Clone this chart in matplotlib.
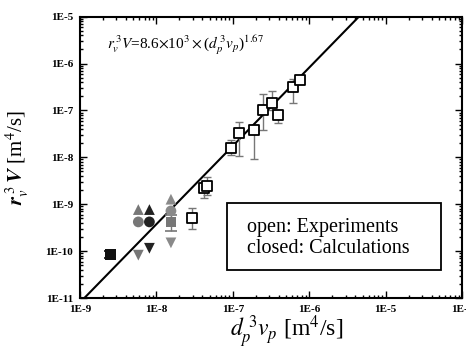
import matplotlib
matplotlib.use("Agg")
import matplotlib.pyplot as plt
import numpy as np
from matplotlib.ticker import LogLocator, FixedLocator, NullFormatter
from matplotlib.patches import Rectangle

plt.rcParams['font.family'] = ['Liberation Serif', 'DejaVu Serif']
plt.rcParams['mathtext.fontset'] = 'stix'

# Experiments (open squares)
exp_x = [2.95e-8, 4.2e-8, 4.6e-8, 9.4e-8, 1.2e-7, 1.9e-7, 2.5e-7, 3.3e-7, 3.9e-7, 6.1e-7, 7.6e-7]
exp_y = [5.0e-10, 2.2e-9, 2.5e-9, 1.58e-8, 3.3e-8, 3.75e-8, 1.03e-7, 1.46e-7, 8.2e-8, 3.2e-7, 4.5e-7]
exp_lo = [2.9e-10, 1.37e-9, 1.6e-9, 1.1e-8, 1.07e-8, 9.2e-9, 3.9e-8, 1.0e-7, 5.5e-8, 1.46e-7, 3.6e-7]
exp_hi = [8.3e-10, 3.0e-9, 3.8e-9, 2.3e-8, 5.6e-8, 4.5e-8, 2.3e-7, 2.6e-7, 1.0e-7, 4.7e-7, 5.3e-7]

# Calculations (closed markers)
calc_x = [2.5e-9, 5.8e-9, 8.1e-9, 5.8e-9, 8.1e-9, 5.8e-9, 8.1e-9, 1.55e-8, 1.55e-8, 1.55e-8, 1.55e-8]
calc_y = [8.5e-11, 7.7e-10, 7.7e-10, 4.2e-10, 4.2e-10, 8.2e-11, 1.15e-10, 1.28e-9, 7.2e-10, 4.2e-10, 1.5e-10]
calc_marker = ['s', '^', '^', 'o', 'o', 'v', 'v', '^', 'o', 's', 'v']
calc_color = ['#111111', '#777777', '#222222', '#777777', '#222222', '#777777', '#222222',
              '#8a8a8a', '#8a8a8a', '#777777', '#8a8a8a']
calc_err_idx = [0, 9]
calc_lo = [7.2e-11, 2.7e-10]
calc_hi = [1.0e-10, 6.0e-10]

fit_coef = 8.6e3
fit_exp = 1.67

fig = plt.figure(figsize=(4.66, 3.52), dpi=100)
ax = fig.add_axes([80/466, 1-298/352, (462-80)/466, (298-16.7)/352])
ax.set_xscale('log')
ax.set_yscale('log')
ax.set_xlim(1e-9, 1e-4)
ax.set_ylim(1e-11, 1e-5)

xf = np.logspace(-9, -4, 200)
ax.plot(xf, fit_coef * xf**fit_exp, color='black', lw=1.5, zorder=2)

# experiment error bars
for x, y, lo, hi in zip(exp_x, exp_y, exp_lo, exp_hi):
    ax.errorbar([x], [y], yerr=[[y - lo], [hi - y]], fmt='none', ecolor='#777777',
                elinewidth=1.0, capsize=3, capthick=1.0, zorder=3)
ax.scatter(exp_x, exp_y, marker='s', s=55, facecolors='white', edgecolors='black',
           linewidths=1.3, zorder=4)

for i, lo, hi in zip(calc_err_idx, calc_lo, calc_hi):
    y = calc_y[i]
    ax.errorbar([calc_x[i]], [y], yerr=[[y - lo], [hi - y]], fmt='none', ecolor=calc_color[i],
                elinewidth=1.0, capsize=4, capthick=1.2, zorder=3)
for x, y, m, c in zip(calc_x, calc_y, calc_marker, calc_color):
    ax.scatter([x], [y], marker=m, s=60, color=c, edgecolors='none', zorder=4)

ax.xaxis.set_major_locator(FixedLocator([1e-9, 1e-8, 1e-7, 1e-6, 1e-5, 1e-4]))
ax.yaxis.set_major_locator(FixedLocator([1e-11, 1e-10, 1e-9, 1e-8, 1e-7, 1e-6, 1e-5]))
ax.xaxis.set_minor_locator(LogLocator(base=10, subs=np.arange(2, 10), numticks=20))
ax.yaxis.set_minor_locator(LogLocator(base=10, subs=np.arange(2, 10), numticks=20))
ax.xaxis.set_minor_formatter(NullFormatter())
ax.yaxis.set_minor_formatter(NullFormatter())
ax.set_xticklabels(['1E-9', '1E-8', '1E-7', '1E-6', '1E-5', '1E-4'])
ax.set_yticklabels(['1E-11', '1E-10', '1E-9', '1E-8', '1E-7', '1E-6', '1E-5'])
ax.tick_params(which='both', direction='in', top=True, right=True, labelsize=8, width=1.0)
ax.tick_params(which='major', length=5, pad=5)
ax.tick_params(which='minor', length=2.5)
for lab in ax.get_xticklabels() + ax.get_yticklabels():
    lab.set_fontweight('bold')
for s in ax.spines.values():
    s.set_linewidth(1.5)

ax.set_ylabel(r'$\mathbfit{r}_{v}^{\;3}\,\mathbfit{V}$ [m$^{4}$/s]', fontsize=15)
ax.yaxis.set_label_coords(-0.128, 0.5)
ax.set_xlabel(r'$\mathit{d}_{p}^{\;3}\mathit{v}_{p}$ [m$^{4}$/s]', fontsize=17)
ax.xaxis.set_label_coords(0.54, -0.055)

ax.text(0.07, 0.90, r'$r_{v}^{\,3}V$=8.6$\times$10$^{3}\times$($d_{p}^{\,3}v_{p}$)$^{\mathit{1.67}}$',
        transform=ax.transAxes, fontsize=11, ha='left', va='center')

ax.add_patch(Rectangle((0.384, 0.0995), 0.945 - 0.384, 0.337 - 0.0995, transform=ax.transAxes,
                       facecolor='white', edgecolor='black', lw=1.3, zorder=5))
ax.text(0.437, 0.249, 'open: Experiments', transform=ax.transAxes, fontsize=14.5,
        ha='left', va='center', zorder=6)
ax.text(0.437, 0.175, 'closed: Calculations', transform=ax.transAxes, fontsize=14.5,
        ha='left', va='center', zorder=6)

fig.savefig('out.png', dpi=100)
